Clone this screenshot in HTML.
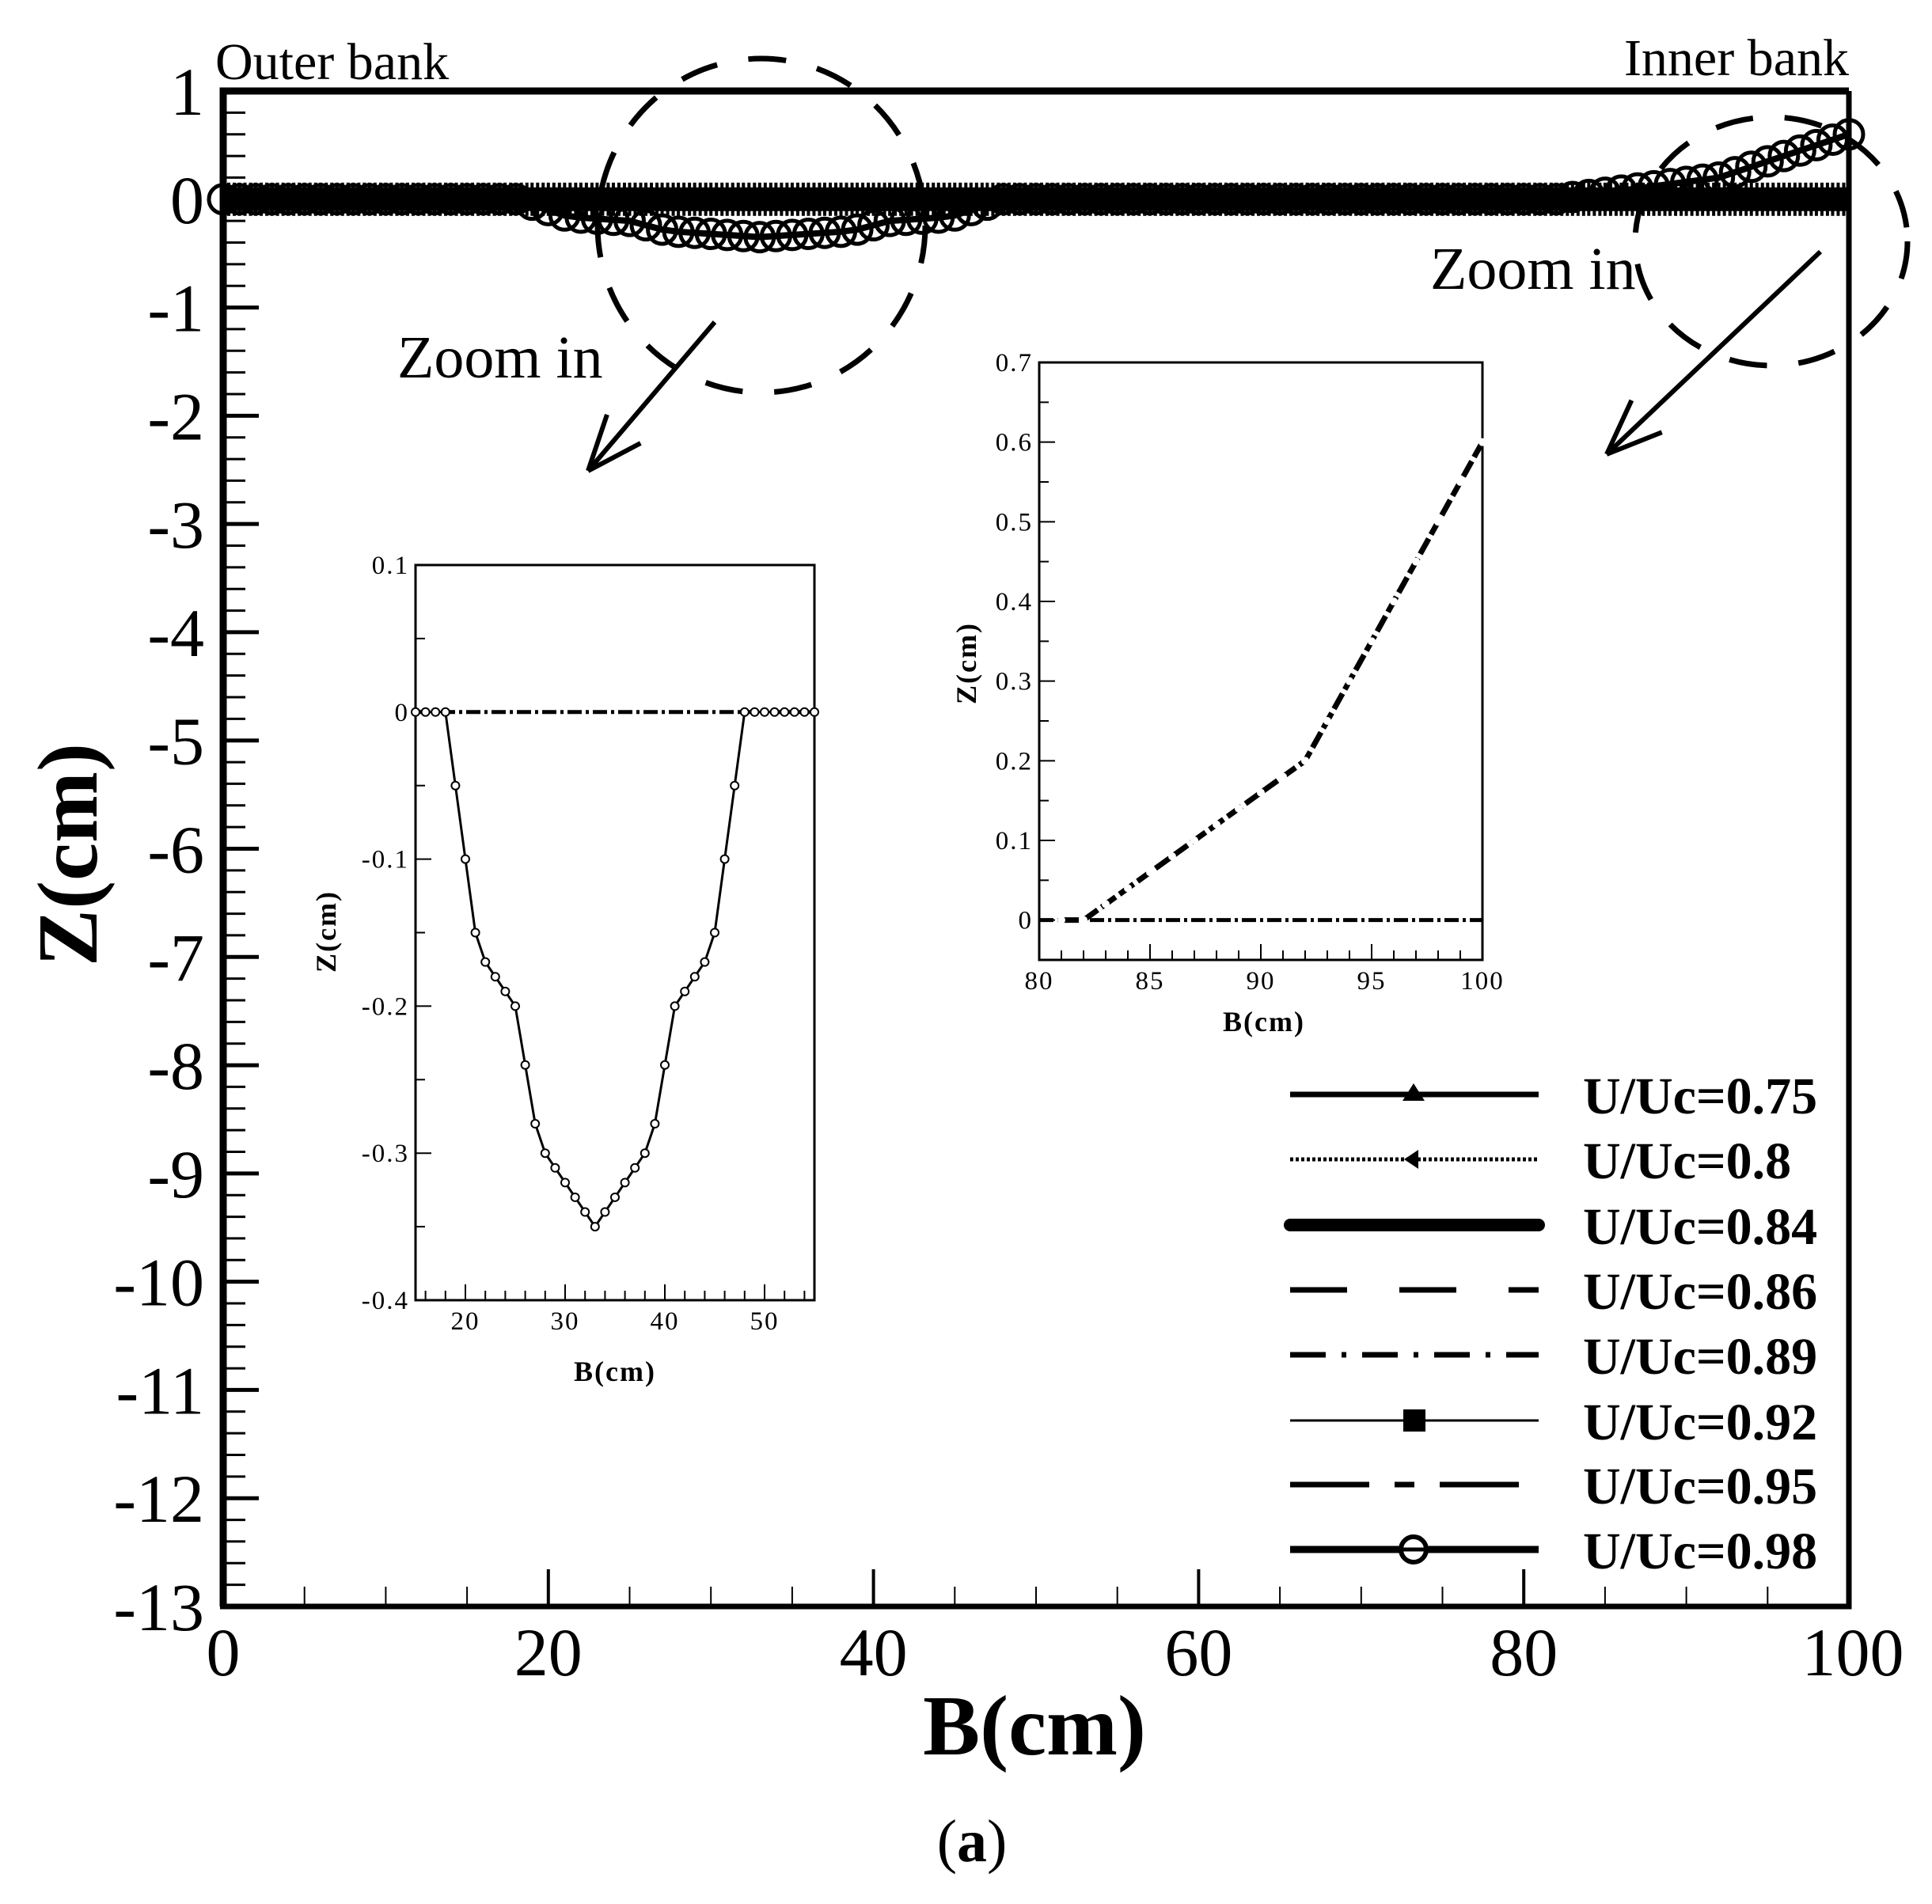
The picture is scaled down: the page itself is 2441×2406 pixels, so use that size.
<!DOCTYPE html>
<html><head><meta charset="utf-8"><style>
html,body{margin:0;padding:0;background:#fff;}
svg{display:block;font-family:"Liberation Serif",serif;}
</style></head><body>
<svg id="chart" width="2441" height="2406" viewBox="0 0 2441 2406" xmlns="http://www.w3.org/2000/svg">
<rect width="2441" height="2406" fill="#fff"/>
<g id="main"></g><g id="in1"></g><g id="in2"></g><g id="leg"></g>
</svg>
<script>
// ---------- data ----------
const mainXTicks = [0,20,40,60,80,100];
const mainYTicks = [1,0,-1,-2,-3,-4,-5,-6,-7,-8,-9,-10,-11,-12,-13];
const seriesNames = ["U/Uc=0.75","U/Uc=0.8","U/Uc=0.84","U/Uc=0.86","U/Uc=0.89","U/Uc=0.92","U/Uc=0.95","U/Uc=0.98"];
const bPos = [0,1,2,3,4,5,6,7,8,9,10,11,12,13,14,15,16,17,18,19,20,21,22,23,24,25,26,27,28,29,30,31,32,33,34,35,36,37,38,39,40,41,42,43,44,45,46,47,48,49,50,51,52,53,54,55,56,57,58,59,60,61,62,63,64,65,66,67,68,69,70,71,72,73,74,75,76,77,78,79,80,81,82,83,84,85,86,87,88,89,90,91,92,93,94,95,96,97,98,99,100];
const z098 = [0,0,0,0,0,0,0,0,0,0,0,0,0,0,0,0,0,0,0,-0.05,-0.1,-0.15,-0.17,-0.18,-0.19,-0.2,-0.24,-0.28,-0.3,-0.31,-0.32,-0.33,-0.34,-0.35,-0.34,-0.33,-0.32,-0.31,-0.3,-0.28,-0.24,-0.2,-0.19,-0.18,-0.17,-0.15,-0.1,-0.05,0,0,0,0,0,0,0,0,0,0,0,0,0,0,0,0,0,0,0,0,0,0,0,0,0,0,0,0,0,0,0,0,0,0,0,0.02,0.04,0.06,0.08,0.1,0.12,0.14,0.16,0.18,0.2,0.25,0.3,0.35,0.4,0.45,0.5,0.55,0.6];
const zFlat = [0,0,0,0,0,0,0,0,0,0,0,0,0,0,0,0,0,0,0,0,0,0,0,0,0,0,0,0,0,0,0,0,0,0,0,0,0,0,0,0,0,0,0,0,0,0,0,0,0,0,0,0,0,0,0,0,0,0,0,0,0,0,0,0,0,0,0,0,0,0,0,0,0,0,0,0,0,0,0,0,0,0,0,0,0,0,0,0,0,0,0,0,0,0,0,0,0,0,0,0,0];
const in1X = [15,16,17,18,19,20,21,22,23,24,25,26,27,28,29,30,31,32,33,34,35,36,37,38,39,40,41,42,43,44,45,46,47,48,49,50,51,52,53,54,55];
const in1Z = [0,0,0,0,-0.05,-0.1,-0.15,-0.17,-0.18,-0.19,-0.2,-0.24,-0.28,-0.3,-0.31,-0.32,-0.33,-0.34,-0.35,-0.34,-0.33,-0.32,-0.31,-0.3,-0.28,-0.24,-0.2,-0.19,-0.18,-0.17,-0.15,-0.1,-0.05,0,0,0,0,0,0,0,0];
const in1XTicks = [20,30,40,50];
const in1YTicks = [0.1,0,-0.1,-0.2,-0.3,-0.4];
const in1YLabels = ["0.1","0","-0.1","-0.2","-0.3","-0.4"];
const in2X = [81,82,83,84,85,86,87,88,89,90,91,92,93,94,95,96,97,98,99,100];
const in2Z = [0,0,0.02,0.04,0.06,0.08,0.1,0.12,0.14,0.16,0.18,0.2,0.25,0.3,0.35,0.4,0.45,0.5,0.55,0.6];
const in2XTicks = [80,85,90,95,100];
const in2YTicks = [0.7,0.6,0.5,0.4,0.3,0.2,0.1,0];
const in2YLabels = ["0.7","0.6","0.5","0.4","0.3","0.2","0.1","0"];

const NS="http://www.w3.org/2000/svg";
function mk(parent,tag,attrs,text){const e=document.createElementNS(NS,tag);for(const k in attrs)e.setAttribute(k,attrs[k]);if(text!==undefined)e.textContent=text;parent.appendChild(e);return e;}

const M={l:282,r:2336,t:115,b:2030,x0:0,x1:100,y0:-13,y1:1};
const mx=v=>M.l+(v-M.x0)/(M.x1-M.x0)*(M.r-M.l);
const my=v=>M.b-(v-M.y0)/(M.y1-M.y0)*(M.b-M.t);
const g=document.getElementById('main');

for(let v=-13;v<=1.0001;v+=0.2){const y=my(v);const major=Math.abs(v-Math.round(v))<1e-6;
 const t=mk(g,'line',{x1:M.l,x2:M.l+(major?45:28),y1:y,y2:y,stroke:'#000','stroke-width':major?5:3});
 
 }
for(let v=0;v<=100;v+=5){const x=mx(v);const major=v%20===0;
 const t=mk(g,'line',{x1:x,x2:x,y1:M.b,y2:M.b-(major?47:25),stroke:'#000','stroke-width':major?4:2});
 
 }
mainYTicks.forEach(v=>{const t=mk(g,'text',{x:258,y:my(v)+30,'font-size':86,'text-anchor':'end'},String(v));
 
 });
mainXTicks.forEach(v=>{const t=mk(g,'text',{x:mx(v)+(v===100?5:0),y:2117,'font-size':86,'text-anchor':'middle'},String(v));
 
 });

const flatStyles=[{w:5,d:''},{w:4,d:'4 3'},{w:30,d:''},{w:6,d:'40 30'},{w:6,d:'30 12 6 12'},{w:3,d:''},{w:6,d:'40 15 10 15'}];
flatStyles.forEach((s,i)=>{const pts=bPos.map((b,j)=>mx(b)+','+my(zFlat[j])).join(' ');
 const p=mk(g,'polyline',{points:pts,fill:'none',stroke:'#000','stroke-width':s.w,'stroke-dasharray':s.d});
 
 });
bPos.forEach((b,j)=>{const x=mx(b);[x,x+7,x+14].forEach(xx=>{if(xx<=M.r){const t=mk(g,'line',{x1:xx,x2:xx,y1:my(zFlat[j])-21,y2:my(zFlat[j])+21,stroke:'#000','stroke-width':4});
 
 }});});
const p98=mk(g,'polyline',{points:bPos.map((b,j)=>mx(b)+','+my(z098[j])).join(' '),fill:'none',stroke:'#000','stroke-width':8});


bPos.forEach((b,j)=>{const c=mk(g,'circle',{cx:mx(b),cy:my(z098[j]),r:18,fill:'none',stroke:'#000','stroke-width':5});
 
 });

const fr=mk(g,'path',{d:`M${M.l},${M.b} L${M.l},${M.t} L${M.r},${M.t}`,fill:'none',stroke:'#000','stroke-width':9});


const fr2=mk(g,'path',{d:`M${M.l-4},${M.b} L${M.r},${M.b} L${M.r},${M.t}`,fill:'none',stroke:'#000','stroke-width':7});



let t;
t=mk(g,'text',{x:1307,y:2217,'font-size':108,'font-weight':'bold','text-anchor':'middle'},'B(cm)');

t=mk(g,'text',{x:0,y:0,'font-size':108,'font-weight':'bold','text-anchor':'middle',transform:'translate(122,1080) rotate(-90)'},'Z(cm)');

t=mk(g,'text',{x:1228,y:2352,'font-size':76,'text-anchor':'middle'});

mk(t,'tspan',{},'(');mk(t,'tspan',{'font-weight':'bold'},'a');mk(t,'tspan',{},')');
t=mk(g,'text',{x:272,y:100,'font-size':66},'Outer bank');

t=mk(g,'text',{x:2336,y:95,'font-size':66,'text-anchor':'end'},'Inner bank');

t=mk(g,'text',{x:502,y:477,'font-size':76},'Zoom in');

t=mk(g,'text',{x:1807,y:365,'font-size':76},'Zoom in');

let e=mk(g,'ellipse',{cx:962,cy:285,rx:207,ry:211,fill:'none',stroke:'#000','stroke-width':7,'stroke-dasharray':'48 40'});

e=mk(g,'ellipse',{cx:2238,cy:305,rx:172,ry:157,fill:'none',stroke:'#000','stroke-width':7,'stroke-dasharray':'48 40'});

function arrow(x1,y1,x2,y2,name){const a=mk(g,'g',{});
 mk(a,'line',{x1,y1,x2,y2,stroke:'#000','stroke-width':6});
 const ang=Math.atan2(y2-y1,x2-x1),L=75,s=0.38;
 [ang+Math.PI-s,ang+Math.PI+s].forEach(q=>mk(a,'line',{x1:x2,y1:y2,x2:x2+L*Math.cos(q),y2:y2+L*Math.sin(q),stroke:'#000','stroke-width':6}));}
arrow(903,407,743,595,'zoom-arrow-left');
arrow(2300,318,2030,574,'zoom-arrow-right');

function inset(gid,box,xr,yr,xMajor,xMinor,yMajor,yMinor,yLabels,xs,zs,style,labelPos){
 const G=document.getElementById(gid);
 const sx=v=>box.l+(v-xr[0])/(xr[1]-xr[0])*(box.r-box.l);
 const sy=v=>box.b-(v-yr[0])/(yr[1]-yr[0])*(box.b-box.t);
 const bg=mk(G,'rect',{x:box.l,y:box.t,width:box.r-box.l,height:box.b-box.t,fill:'#fff',stroke:'#000','stroke-width':3});
 
 for(let v=Math.ceil(yr[0]/yMinor)*yMinor;v<=yr[1]+1e-9;v+=yMinor){const y=sy(v);
  const tk=mk(G,'line',{x1:box.l,x2:box.l+(yMajor.some(m=>Math.abs(m-v)<1e-6)?20:12),y1:y,y2:y,stroke:'#000','stroke-width':2});
  }
 for(let v=Math.ceil(xr[0]/xMinor)*xMinor;v<=xr[1]+1e-9;v+=xMinor){const x=sx(v);
  const tk=mk(G,'line',{x1:x,x2:x,y1:box.b,y2:box.b-(xMajor.includes(v)?20:12),stroke:'#000','stroke-width':2});
  }
 yMajor.forEach((v,i)=>{const tl=mk(G,'text',{x:box.l-8,y:sy(v)+11,'font-size':33,'text-anchor':'end','letter-spacing':2},yLabels[i]);
  });
 xMajor.forEach(v=>{const tl=mk(G,'text',{x:sx(v),y:labelPos.xlb,'font-size':33,'text-anchor':'middle','letter-spacing':2},String(v));
  });
 const zl=mk(G,'line',{x1:box.l,x2:box.r,y1:sy(0),y2:sy(0),stroke:'#000','stroke-width':5,'stroke-dasharray':'18 5 4 5'});
 
 const pl=mk(G,'polyline',{points:xs.map((x,i)=>sx(x)+','+sy(zs[i])).join(' '),fill:'none',stroke:'#000','stroke-width':style.w,'stroke-dasharray':style.d});
 
 xs.forEach((x,i)=>{const c=mk(G,'circle',{cx:sx(x),cy:sy(zs[i]),r:style.r,fill:'#fff',stroke:style.mk,'stroke-width':2});
  });
 let tt=mk(G,'text',{x:labelPos.bx,y:labelPos.by,'font-size':36,'font-weight':'bold','text-anchor':'middle','letter-spacing':2},'B(cm)');
 
 tt=mk(G,'text',{x:0,y:0,'font-size':36,'font-weight':'bold','text-anchor':'middle','letter-spacing':2,transform:`translate(${labelPos.zx},${labelPos.zy}) rotate(-90)`},'Z(cm)');
 
}
inset('in1',{l:525,r:1029,t:714,b:1643},[15,55],[-0.4,0.1],in1XTicks,2,in1YTicks,0.05,in1YLabels,in1X,in1Z,{w:3,d:'',r:5,mk:'#000'},{xlb:1680,bx:777,by:1745,zx:424,zy:1177});
inset('in2',{l:1313,r:1873,t:458,b:1213},[80,100],[-0.05,0.7],in2XTicks,1,in2YTicks,0.05,in2YLabels,in2X,in2Z,{w:7,d:'22 6',r:4,mk:'#fff'},{xlb:1250,bx:1597,by:1303,zx:1233,zy:838});

const L=document.getElementById('leg');
const legY=[1383,1465,1548,1630,1712,1795,1876,1958];
const legStyles=[{w:7,d:''},{w:5,d:'4 3'},{w:16,d:''},{w:7,d:'72 66'},{w:7,d:'45 20 6 20'},{w:3,d:''},{w:7,d:'100 32 25 32'},{w:9,d:''}];
seriesNames.forEach((n,i)=>{const y=legY[i];const ent=mk(L,'g',{});
 
 mk(ent,'line',{x1:1630,x2:1944,y1:y,y2:y,stroke:'#000','stroke-width':legStyles[i].w,'stroke-dasharray':legStyles[i].d,'stroke-linecap':i===2?'round':'butt'});
 if(i===0)mk(ent,'path',{d:`M1786,${y-14} L1800,${y+8} L1772,${y+8} Z`,fill:'#000'});
 if(i===1)mk(ent,'path',{d:`M1774,${y} L1792,${y-12} L1792,${y+12} Z`,fill:'#000'});
 if(i===5)mk(ent,'rect',{x:1773,y:y-14,width:28,height:28,fill:'#000'});
 if(i===7)mk(ent,'circle',{cx:1786,cy:y,r:16,fill:'#fff',stroke:'#000','stroke-width':6});
 if(i===7)mk(ent,'line',{x1:1770,x2:1802,y1:y,y2:y,stroke:'#000','stroke-width':5});
 mk(ent,'text',{x:2000,y:y+24,'font-size':66,'font-weight':'bold'},n);});
</script>
</body></html>
